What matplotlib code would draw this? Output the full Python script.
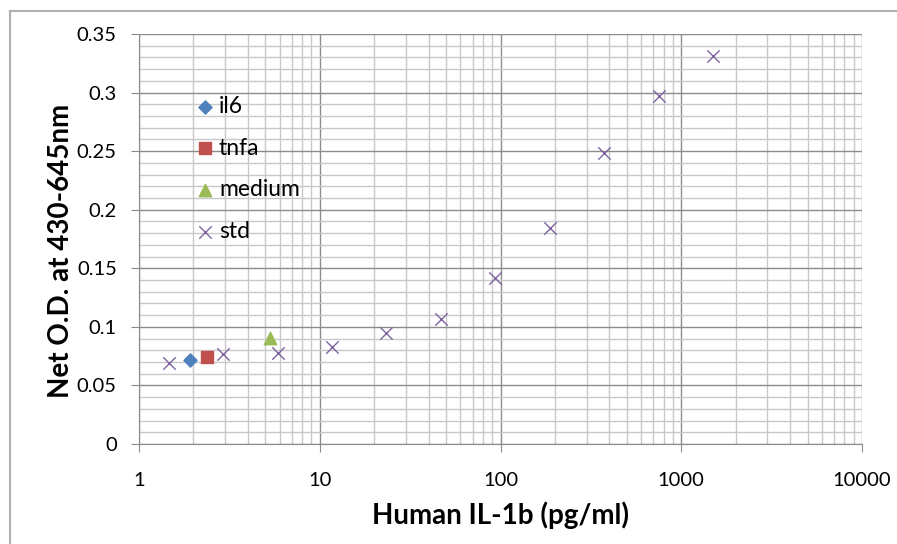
import matplotlib
matplotlib.use("Agg")
import matplotlib.pyplot as plt
from matplotlib.lines import Line2D
from matplotlib.ticker import LogLocator, MultipleLocator, FixedLocator, FuncFormatter

plt.rcParams['font.family'] = ['Lato', 'DejaVu Sans']

# standard curve and samples
std_conc = [1.46, 2.93, 5.86, 11.7, 23.4, 46.9, 93.75, 187.5, 375, 750, 1500]
std_od = [0.069, 0.077, 0.078, 0.083, 0.095, 0.107, 0.142, 0.184, 0.248, 0.297, 0.331]
il6_conc = [1.92]
il6_od = [0.0717]
tnfa_conc = [2.37]
tnfa_od = [0.0745]
medium_conc = [5.31]
medium_od = [0.0902]

x_ticks = [1, 10, 100, 1000, 10000]
y_ticks = [0, 0.05, 0.1, 0.15, 0.2, 0.25, 0.3, 0.35]

fig = plt.figure(figsize=(8.97, 5.44), dpi=100)
ax = fig.add_axes([139 / 897, 1 - 444 / 544, 723 / 897, 410 / 544])

ax.scatter(il6_conc, il6_od, marker='D', s=45, color='#4F81BD', label='il6', zorder=3)
ax.scatter(tnfa_conc, tnfa_od, marker='s', s=80, color='#C0504D', label='tnfa', zorder=3)
ax.scatter(medium_conc, medium_od, marker='^', s=80, color='#9BBB59', label='medium', zorder=3)
ax.scatter(std_conc, std_od, marker='x', s=80, color='#8064A2', linewidths=1.0,
           label='std', zorder=3)

ax.set_xscale('log')
ax.set_xlim(1, 10000)
ax.set_ylim(0, 0.35)
ax.xaxis.set_major_locator(FixedLocator(x_ticks))
ax.xaxis.set_minor_locator(LogLocator(base=10, subs=range(2, 10), numticks=20))
ax.xaxis.set_major_formatter(FuncFormatter(lambda v, p: f"{v:g}"))
ax.yaxis.set_major_locator(FixedLocator(y_ticks))
ax.yaxis.set_minor_locator(MultipleLocator(0.01))
ax.yaxis.set_major_formatter(FuncFormatter(lambda v, p: f"{round(v, 2):g}"))

ax.grid(which='major', color='#8c8c8c', linewidth=1.0, zorder=1)
ax.grid(which='minor', color='#c8c8c8', linewidth=1.0, zorder=1)
ax.set_axisbelow(True)

for s in ['top', 'right']:
    ax.spines[s].set_visible(False)
for s in ['left', 'bottom']:
    ax.spines[s].set_color('#8c8c8c')
ax.tick_params(which='major', length=6, color='#8c8c8c', labelsize=14.5, pad=14)
ax.tick_params(axis='y', which='major', pad=10)
ax.tick_params(which='minor', length=0)

ax.set_xlabel('Human IL-1b (pg/ml)', fontsize=20, fontweight='bold', labelpad=9)
ax.set_ylabel('Net O.D. at 430-645nm', fontsize=20, fontweight='bold')
ax.yaxis.set_label_coords(-0.09, 0.47)

ax.legend(loc='upper left', bbox_to_anchor=(0.044, 0.877), frameon=False,
          fontsize=16.5, handletextpad=-0.4, labelspacing=0.9, borderpad=0)

# chart area frame (top and left edges)
fig.add_artist(Line2D([10 / 897, 1], [1 - 11 / 544, 1 - 11 / 544],
                      color='#b0b0b0', linewidth=1.5, transform=fig.transFigure))
fig.add_artist(Line2D([10 / 897, 10 / 897], [0, 1 - 11 / 544],
                      color='#b0b0b0', linewidth=1.5, transform=fig.transFigure))

fig.savefig('out.png', dpi=100)
